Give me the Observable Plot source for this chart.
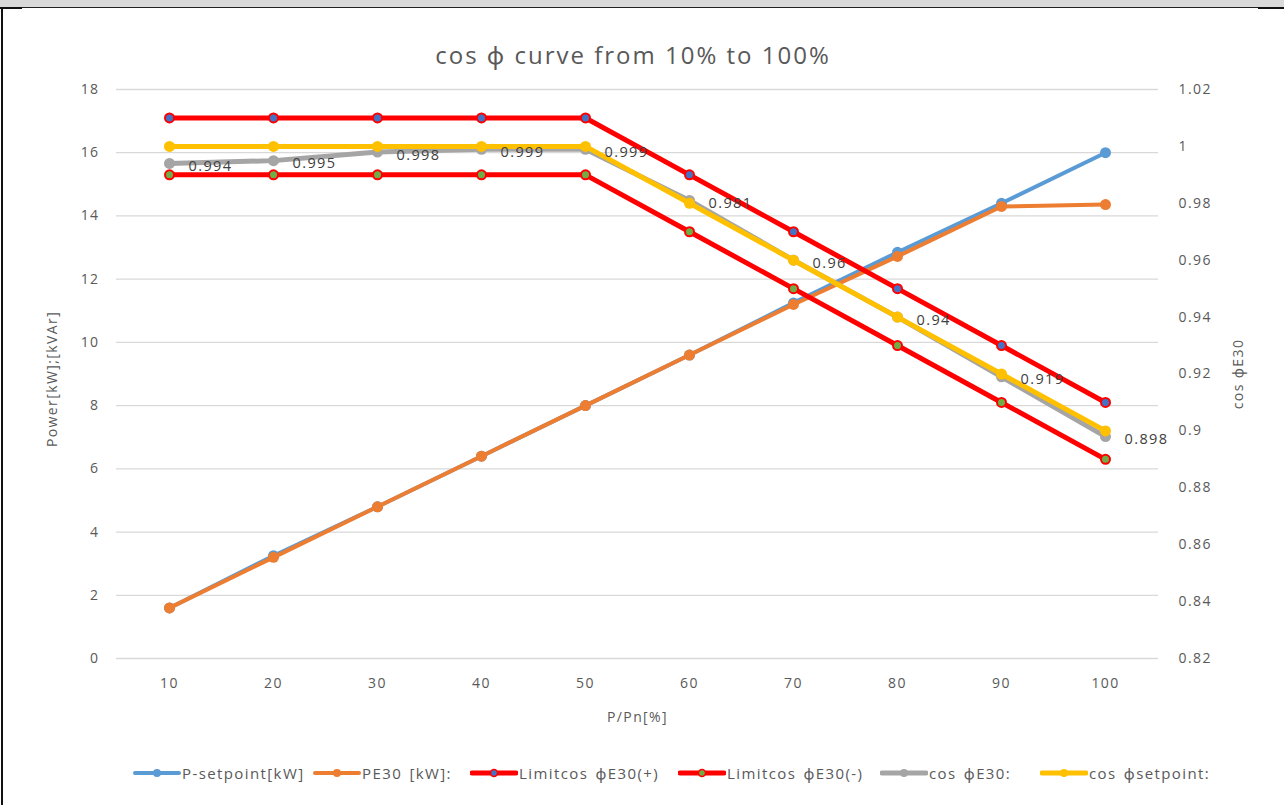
<!DOCTYPE html>
<html>
<head>
<meta charset="utf-8">
<script src="https://cdn.jsdelivr.net/npm/d3@7"></script>
<script src="https://cdn.jsdelivr.net/npm/@observablehq/plot@0.6"></script>
<style>
  html, body { margin: 0; padding: 0; background: #fff; }
  #sheet { position: relative; width: 1284px; height: 805px; overflow: hidden; background: #fff;
           font-family: "Open Sans", "Noto Sans", sans-serif; color: #595959; }
  #band { position: absolute; left: 0; top: 0; width: 1284px; height: 7px; background: #d9d9d9;
          border-bottom: 1px solid #222; }
  #edge { position: absolute; left: 1px; top: 8px; width: 2px; height: 797px; background: #111; }
  #tickL { position: absolute; left: 0; top: 7px; width: 22px; height: 2px; background: #111; }
  #tickR { position: absolute; left: 1258px; top: 7px; width: 26px; height: 2px; background: #111; }
  #title { position: absolute; left: 0; width: 1266px; top: 38px; text-align: center;
           font-size: 24px; letter-spacing: 2px; color: #595959; }
  #chart { position: absolute; left: 0; top: 0; }
  #legend { position: absolute; left: 0; top: 763px; width: 1284px; height: 20px;
            font-size: 15px; letter-spacing: 1.4px; word-spacing: 2px; color: #595959; white-space: nowrap; }
  .item { position: absolute; top: 0; display: flex; align-items: center; }
  .item svg { display: block; margin-right: 1px; }
</style>
</head>
<body>
<div id="sheet">
  <div id="band"></div>
  <div id="edge"></div>
  <div id="tickL"></div>
  <div id="tickR"></div>
  <div id="title">cos ϕ curve from 10% to 100%</div>
  <div id="chart"></div>
  <div id="legend"></div>
</div>
<script>
// Load level P/Pn in percent
const load = [10, 20, 30, 40, 50, 60, 70, 80, 90, 100];

// Primary axis: active power [kW]
const pSetpoint = [1.6, 3.25, 4.8, 6.4, 8.0, 9.6, 11.25, 12.85, 14.4, 16.0];
const pE30      = [1.6, 3.2, 4.8, 6.4, 8.0, 9.6, 11.2, 12.72, 14.3, 14.36];

// Secondary axis: cos phi
const limitPlus   = [1.01, 1.01, 1.01, 1.01, 1.01, 0.99, 0.97, 0.95, 0.93, 0.91];
const limitMinus  = [0.99, 0.99, 0.99, 0.99, 0.99, 0.97, 0.95, 0.93, 0.91, 0.89];
const cosE30      = [0.994, 0.995, 0.998, 0.999, 0.999, 0.981, 0.96, 0.94, 0.919, 0.898];
const cosSetpoint = [1.0, 1.0, 1.0, 1.0, 1.0, 0.98, 0.96, 0.94, 0.92, 0.90];

// Axis ticks
const powerTicks = [0, 2, 4, 6, 8, 10, 12, 14, 16, 18];
const cosTicks   = [0.82, 0.84, 0.86, 0.88, 0.9, 0.92, 0.94, 0.96, 0.98, 1, 1.02];

// The secondary axis spans 0.82..1.02 over the same height as 0..18 kW
const cosMin = 0.82, cosMax = 1.02, powMax = 18;
const toPow = c => (c - cosMin) * powMax / (cosMax - cosMin);

const series = [
  {name: "P-setpoint[kW]",     values: pSetpoint,   secondary: false, color: "#5b9bd5", fill: "#5b9bd5", width: 4, r: 5.5, legendX: 133},
  {name: "PE30 [kW]:",         values: pE30,        secondary: false, color: "#ed7d31", fill: "#ed7d31", width: 4, r: 5.5, legendX: 313},
  {name: "Limitcos ϕE30(+)",   values: limitPlus,   secondary: true,  color: "#ff0000", fill: "#4472c4", width: 5, r: 4.5, legendX: 470},
  {name: "Limitcos ϕE30(-)",   values: limitMinus,  secondary: true,  color: "#ff0000", fill: "#70ad47", width: 5, r: 4.5, legendX: 678},
  {name: "cos ϕE30:",          values: cosE30,      secondary: true,  color: "#a5a5a5", fill: "#a5a5a5", width: 5, r: 5.5, legendX: 880},
  {name: "cos ϕsetpoint:",     values: cosSetpoint, secondary: true,  color: "#ffc000", fill: "#ffc000", width: 5, r: 5.5, legendX: 1040}
];

const rows = s => load.map((x, i) => ({x, v: s.values[i], y: s.secondary ? toPow(s.values[i]) : s.values[i]}));

const marks = [
  Plot.gridY(powerTicks, {stroke: "#d9d9d9", strokeOpacity: 1, strokeWidth: 1.3}),
  Plot.axisY(powerTicks, {anchor: "left", tickSize: 0, tickPadding: 17, fontSize: 14, label: null}),
  Plot.axisY(cosTicks.map(toPow), {anchor: "right", tickSize: 0, tickPadding: 20, fontSize: 14, label: null,
    tickFormat: d => String(+(cosMin + d * (cosMax - cosMin) / powMax).toFixed(2))}),
  Plot.axisX(load, {anchor: "bottom", tickSize: 0, tickPadding: 20, fontSize: 14, label: null})
];

for (const s of series) {
  const data = rows(s);
  marks.push(Plot.line(data, {x: "x", y: "y", stroke: s.color, strokeWidth: s.width, strokeLinejoin: "round", strokeLinecap: "round"}));
  if (s.color === "#ff0000") {
    marks.push(Plot.dot(data, {x: "x", y: "y", r: s.r, fill: s.fill, stroke: s.color, strokeWidth: 2}));
  } else {
    marks.push(Plot.dot(data, {x: "x", y: "y", r: s.r, fill: s.fill, stroke: "none"}));
  }
}

// Value labels for the measured cos phi
marks.push(Plot.text(rows(series[4]), {x: "x", y: "y", text: d => String(d.v), textAnchor: "start",
  dx: 19, dy: 3, fill: "#404040", fontSize: 14.5}));

// Axis titles
marks.push(Plot.text(["Power[kW];[kVAr]"], {frameAnchor: "left", textAnchor: "middle", dx: -64, dy: 5, rotate: -90, fill: "#595959", fontSize: 14}));
marks.push(Plot.text(["cos ϕE30"], {frameAnchor: "right", textAnchor: "middle", dx: 80, rotate: -90, fill: "#595959", fontSize: 14}));
marks.push(Plot.text(["P/Pn[%]"], {frameAnchor: "bottom", dy: 63, fill: "#595959", fontSize: 14}));

const chart = Plot.plot({
  width: 1284,
  height: 740,
  marginLeft: 116,
  marginRight: 126,
  marginTop: 89,
  marginBottom: 82,
  style: {fontFamily: "'Open Sans', 'Noto Sans', sans-serif", fontSize: "14px", color: "#595959",
          background: "transparent", letterSpacing: "1.4px"},
  x: {type: "point", domain: load, padding: 0.5},
  y: {domain: [0, powMax]},
  marks
});
document.getElementById("chart").appendChild(chart);

// Legend
const legend = d3.select("#legend");
for (const s of series) {
  const item = legend.append("div").attr("class", "item").style("left", `${s.legendX}px`);
  const svg = item.append("svg").attr("width", 48).attr("height", 14);
  svg.append("line").attr("x1", 2).attr("x2", 46).attr("y1", 7).attr("y2", 7)
    .attr("stroke", s.color).attr("stroke-width", s.width).attr("stroke-linecap", "round");
  svg.append("circle").attr("cx", 24).attr("cy", 7).attr("r", s.color === "#ff0000" ? 3.5 : 4)
    .attr("fill", s.fill).attr("stroke", s.color === "#ff0000" ? s.color : "none").attr("stroke-width", 1.5);
  item.append("span").text(s.name);
}
</script>
</body>
</html>
